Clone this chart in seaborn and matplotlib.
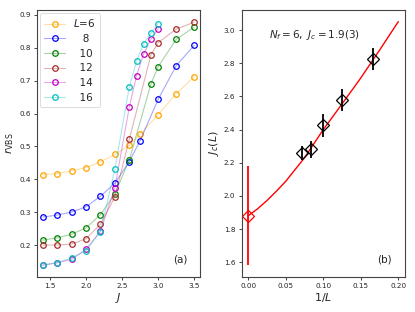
import numpy as np
import pandas as pd
import matplotlib
matplotlib.use("Agg")
import matplotlib.pyplot as plt
import seaborn as sns
from matplotlib.colors import to_rgba

# ---------------- data ----------------
J_A = [1.4, 1.6, 1.8, 2.0, 2.2, 2.4, 2.6, 2.75, 3.0, 3.25, 3.5]
J_B = [1.4, 1.6, 1.8, 2.0, 2.2, 2.4, 2.6, 2.9, 3.0, 3.25, 3.5]
J_C = [1.4, 1.6, 1.8, 2.0, 2.2, 2.4, 2.6, 2.7, 2.8, 2.9, 3.0]

r_L6 = [0.414, 0.418, 0.426, 0.436, 0.453, 0.476, 0.503, 0.537, 0.597, 0.660, 0.712]
r_L8 = [0.286, 0.292, 0.301, 0.317, 0.349, 0.389, 0.454, 0.518, 0.643, 0.745, 0.807]
r_L10 = [0.216, 0.223, 0.234, 0.253, 0.293, 0.357, 0.459, 0.690, 0.742, 0.825, 0.862]
r_L12 = [0.201, 0.201, 0.204, 0.220, 0.264, 0.347, 0.522, 0.778, 0.815, 0.856, 0.877]
r_L14 = [0.140, 0.147, 0.158, 0.188, 0.243, 0.375, 0.620, 0.715, 0.781, 0.825, 0.857]
r_L16 = [0.140, 0.148, 0.162, 0.184, 0.242, 0.431, 0.681, 0.759, 0.812, 0.844, 0.873]

labels = ["$L$=6", "   8", "  10", "  12", "  14", "  16"]
colors = ["orange", "blue", "green", "brown", "m", "c"]

inv_L = [1 / 14, 1 / 12, 1 / 10, 1 / 8, 1 / 6]
Jc_L = [2.259, 2.280, 2.426, 2.578, 2.827]
Jc_err = [0.045, 0.05, 0.07, 0.068, 0.068]

Jc_inf = [1.88]
Jc_inf_err = [0.30]

fit_x = [0.0, 0.0125, 0.025, 0.0375, 0.05, 0.075, 0.1, 0.125, 0.15, 0.175, 0.2]
fit_y = [1.88, 1.922, 1.972, 2.028, 2.088, 2.230, 2.400, 2.555, 2.712, 2.880, 3.052]

# ---------------- figure ----------------
sns.set_style("ticks")
plt.rcParams["font.family"] = ["DejaVu Sans"]
plt.rcParams["mathtext.fontset"] = "dejavusans"

fig = plt.figure(figsize=(4.15, 3.12), dpi=100)
axA = fig.add_axes([0.089, 0.112, 0.393, 0.856])
axB = fig.add_axes([0.582, 0.112, 0.394, 0.856])

series = [(J_A, r_L6), (J_A, r_L8), (J_B, r_L10), (J_B, r_L12), (J_C, r_L14), (J_C, r_L16)]
for (jx, ry), lab, col in zip(series, labels, colors):
    df = pd.DataFrame({"J": jx, "r": ry})
    sns.lineplot(data=df, x="J", y="r", ax=axA, label=lab,
                 color=to_rgba(col, 0.35), lw=0.8, marker="o", ms=4,
                 mfc="none", mec=col, mew=0.9)

axA.set_xlim(1.32, 3.58)
axA.set_ylim(0.104, 0.914)
axA.set_xticks([1.5, 2.0, 2.5, 3.0, 3.5])
axA.set_yticks([0.2, 0.3, 0.4, 0.5, 0.6, 0.7, 0.8, 0.9])
axA.set_xlabel("$J$", fontsize=8, labelpad=1)
axA.set_ylabel(r"$r_{\rm VBS}$", fontsize=8, labelpad=2)
axA.tick_params(labelsize=5.2, length=2.5, width=0.6, pad=2)
axA.text(0.877, 0.064, "(a)", transform=axA.transAxes, ha="center",
         va="center", fontsize=7.5)
leg = axA.legend(loc="upper left", fontsize=7.5, frameon=True,
                 borderaxespad=0.3, handlelength=2.0, labelspacing=0.45)
leg.get_frame().set_linewidth(0.6)

# right panel
df_fit = pd.DataFrame({"x": fit_x, "y": fit_y})
sns.lineplot(data=df_fit, x="x", y="y", ax=axB, color="red", lw=1.0)
axB.errorbar(inv_L, Jc_L, yerr=Jc_err, fmt="D", ms=6.5, mfc="none",
             mec="black", mew=0.9, ecolor="black", elinewidth=1.3, capsize=0)
axB.errorbar([0.0], Jc_inf, yerr=Jc_inf_err, fmt="D", ms=6.5, mfc="none",
             mec="red", mew=0.9, ecolor="red", elinewidth=1.3, capsize=0)

axB.set_xlim(-0.0089, 0.2089)
axB.set_ylim(1.51, 3.122)
axB.set_xticks([0.0, 0.05, 0.10, 0.15, 0.20])
axB.set_xticklabels(["0.00", "0.05", "0.10", "0.15", "0.20"])
axB.set_yticks([1.6, 1.8, 2.0, 2.2, 2.4, 2.6, 2.8, 3.0])
axB.set_xlabel("$1/L$", fontsize=8, labelpad=1)
axB.set_ylabel("$J_c(L)$", fontsize=8, labelpad=2)
axB.tick_params(labelsize=5.2, length=2.5, width=0.6, pad=2)
axB.text(0.449, 0.906, r"$N_f=6,\ J_c=1.9(3)$", transform=axB.transAxes,
         ha="center", va="center", fontsize=7.5)
axB.text(0.877, 0.064, "(b)", transform=axB.transAxes, ha="center",
         va="center", fontsize=7.5)

for ax in (axA, axB):
    for s in ax.spines.values():
        s.set_linewidth(0.8)
        s.set_color("#444444")

fig.savefig("out.png", dpi=100)
